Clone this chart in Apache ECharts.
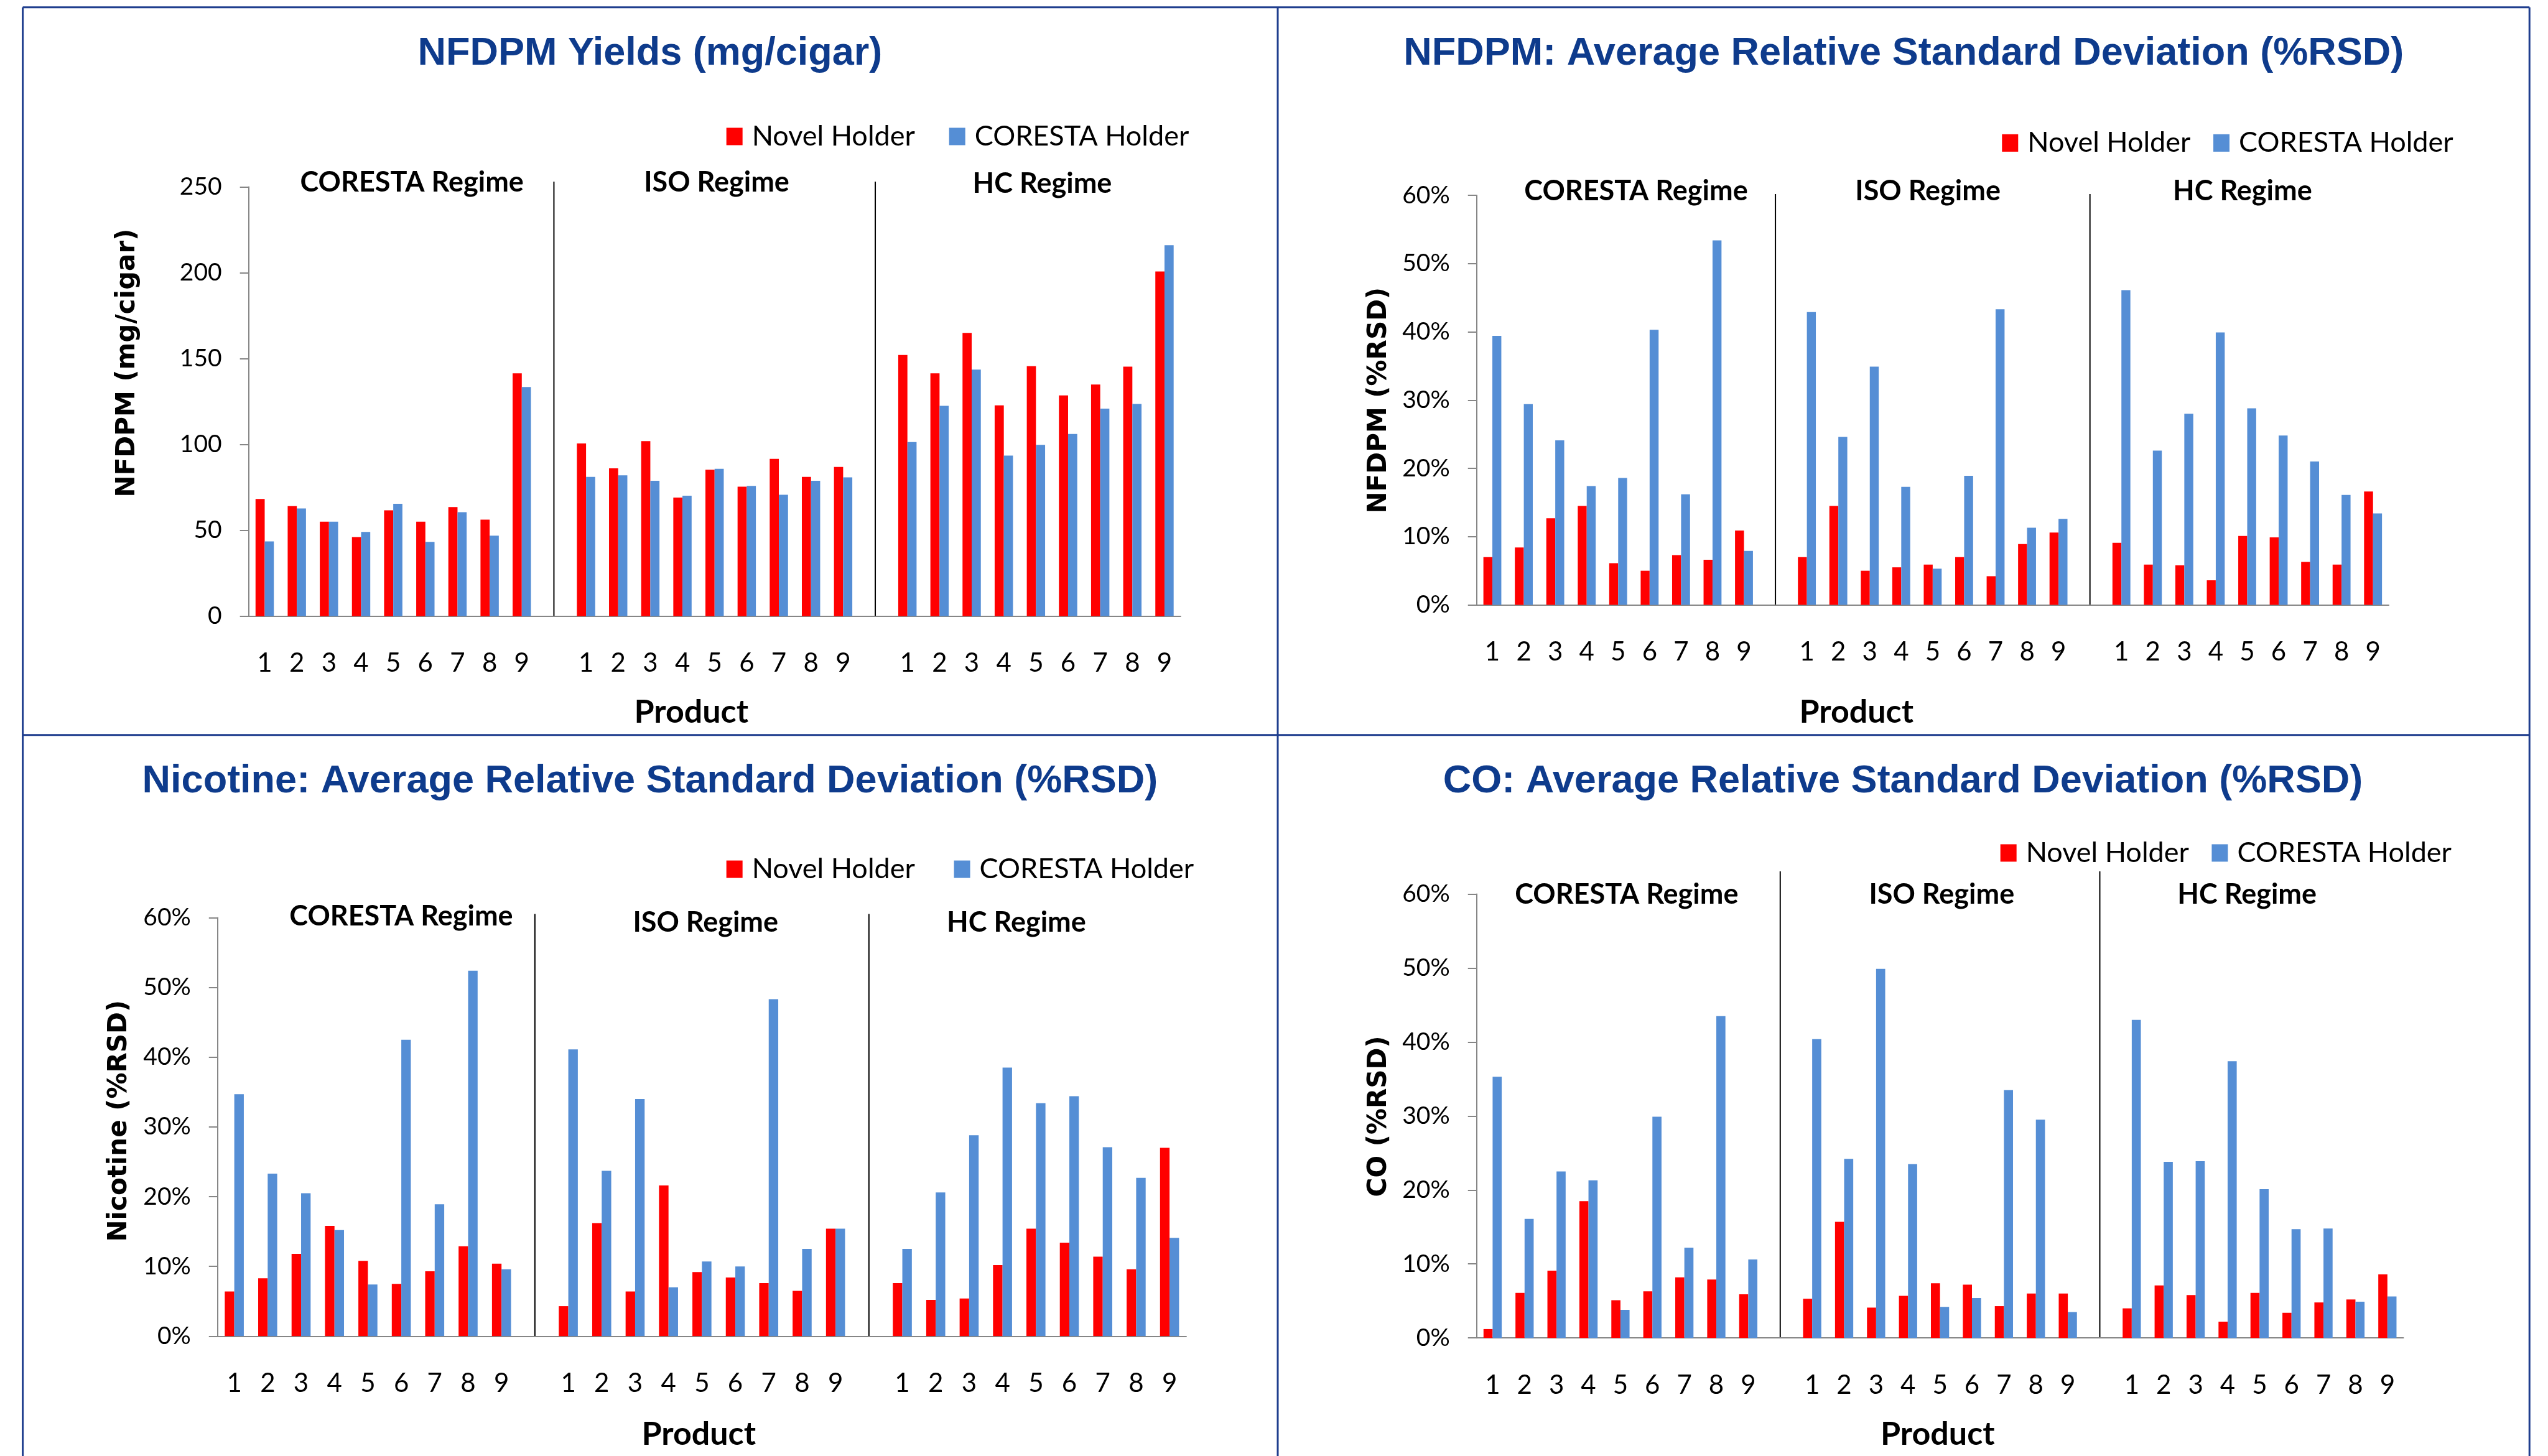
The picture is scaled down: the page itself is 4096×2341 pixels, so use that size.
<!DOCTYPE html>
<html>
  <head>
    <meta charset="UTF-8" />
    <title>NFDPM, Nicotine and CO - Novel vs CORESTA Holder</title>
    <script src="https://cdn.jsdelivr.net/npm/echarts@6.0.0/dist/echarts.min.js"></script>
    <style>
      html, body { margin: 0; padding: 0; background: #fff; }
    </style>
  </head>
  <body>
    <div id="chart" style="width: 4096px; height: 2341px"></div>
    <script>
      var products = ["1", "2", "3", "4", "5", "6", "7", "8", "9"];
      var regimes = ["CORESTA Regime", "ISO Regime", "HC Regime"];
      var seriesNames = ["Novel Holder", "CORESTA Holder"];

      // 27 values each: CORESTA regime 1-9, ISO regime 1-9, HC regime 1-9
      var nfdpmNovel = [68.3, 64.1, 55.1, 46.1, 61.7, 55.1, 63.6, 56.2, 141.4,
        100.6, 86.1, 102.0, 69.1, 85.3, 75.4, 91.6, 81.1, 86.9,
        152.1, 141.4, 165.0, 122.8, 145.6, 128.6, 134.9, 145.3, 200.7];
      var nfdpmCoresta = [43.6, 62.8, 55.1, 49.1, 65.5, 43.3, 60.6, 46.9, 133.5,
        81.1, 82.0, 78.9, 70.2, 85.8, 75.9, 70.7, 78.9, 80.9,
        101.4, 122.5, 143.6, 93.5, 99.8, 106.1, 120.9, 123.6, 216.0];

      var nfdpmRsdNovel = [7.0, 8.4, 12.7, 14.5, 6.1, 5.0, 7.3, 6.6, 10.9,
        7.0, 14.5, 5.0, 5.5, 5.9, 7.0, 4.2, 8.9, 10.6,
        9.1, 5.9, 5.8, 3.6, 10.1, 9.9, 6.3, 5.9, 16.6];
      var nfdpmRsdCoresta = [39.4, 29.4, 24.1, 17.4, 18.6, 40.3, 16.2, 53.4, 7.9,
        42.9, 24.6, 34.9, 17.3, 5.3, 18.9, 43.3, 11.3, 12.6,
        46.1, 22.6, 28.0, 39.9, 28.8, 24.8, 21.0, 16.1, 13.4];

      var nicRsdNovel = [6.4, 8.3, 11.8, 15.8, 10.8, 7.5, 9.3, 12.9, 10.4,
        4.3, 16.2, 6.4, 21.6, 9.2, 8.4, 7.6, 6.5, 15.4,
        7.6, 5.2, 5.4, 10.2, 15.4, 13.4, 11.4, 9.6, 27.0];
      var nicRsdCoresta = [34.7, 23.3, 20.5, 15.2, 7.4, 42.5, 18.9, 52.4, 9.6,
        41.1, 23.7, 34.0, 7.0, 10.7, 10.0, 48.3, 12.5, 15.4,
        12.5, 20.6, 28.8, 38.5, 33.4, 34.4, 27.1, 22.7, 14.1];

      var coRsdNovel = [1.2, 6.1, 9.1, 18.5, 5.1, 6.3, 8.2, 7.9, 5.9,
        5.3, 15.7, 4.1, 5.7, 7.4, 7.2, 4.3, 6.0, 6.0,
        4.0, 7.1, 5.8, 2.2, 6.1, 3.4, 4.8, 5.2, 8.6];
      var coRsdCoresta = [35.3, 16.1, 22.5, 21.3, 3.8, 29.9, 12.2, 43.5, 10.6,
        40.4, 24.2, 49.9, 23.5, 4.2, 5.4, 33.5, 29.5, 3.5,
        43.0, 23.8, 23.9, 37.4, 20.1, 14.7, 14.8, 4.9, 5.6];

      // layout was measured on the 1568px wide preview, S scales it to the window
      var S = 4096 / 1568;
      var NAVY = "#0E3B8C";
      var RED = "#FF0000";
      var BLUE = "#558ED5";
      var AXIS = "#868686";

      var panels = [
        {
          title: "NFDPM Yields (mg/cigar)", yName: "NFDPM (mg/cigar)",
          novel: nfdpmNovel, coresta: nfdpmCoresta, max: 250, step: 50, pct: false,
          grid: [153, 115, 573.5, 264.3], titleAt: [400, 33], legendAt: [447, 84], legendGap: 21,
          regimeAt: [[253.5, 112.4], [441, 112.4], [641.4, 113]],
          yNameAt: [78.5, 223.4], productAt: [425.4, 438.4], sepTop: 111.8,
        },
        {
          title: "NFDPM: Average Relative Standard Deviation (%RSD)", yName: "NFDPM (%RSD)",
          novel: nfdpmRsdNovel, coresta: nfdpmRsdCoresta, max: 60, step: 10, pct: true,
          grid: [908.7, 120.2, 561.3, 252.1], titleAt: [1171.5, 33], legendAt: [1232, 88], legendGap: 14,
          regimeAt: [[1006.8, 117.9], [1186.4, 117.9], [1380, 117.9]],
          yNameAt: [848.7, 246.4], productAt: [1142.4, 438.4], sepTop: 119.4,
        },
        {
          title: "Nicotine: Average Relative Standard Deviation (%RSD)", yName: "Nicotine (%RSD)",
          novel: nicRsdNovel, coresta: nicRsdCoresta, max: 60, step: 10, pct: true,
          grid: [133.9, 564.8, 596.1, 257.6], titleAt: [400, 481], legendAt: [447, 535], legendGap: 24,
          regimeAt: [[246.9, 564.2], [434.2, 568], [625.5, 568]],
          yNameAt: [73.7, 689.9], productAt: [430, 882.7], sepTop: 562.5,
        },
        {
          title: "CO: Average Relative Standard Deviation (%RSD)", yName: "CO (%RSD)",
          novel: coRsdNovel, coresta: coRsdCoresta, max: 60, step: 10, pct: true,
          grid: [908.7, 550.3, 570.3, 273.2], titleAt: [1171, 481], legendAt: [1231, 525], legendGap: 14,
          regimeAt: [[1001, 550.6], [1194.9, 550.6], [1382.8, 550.6]],
          yNameAt: [848.7, 687.1], productAt: [1192.4, 882.7], sepTop: 536.3,
        },
      ];

      // one empty slot between regimes
      var categories = [];
      var gapIndex = [];
      regimes.forEach(function (r, i) {
        if (i > 0) {
          gapIndex.push(categories.length);
          categories.push("");
        }
        products.forEach(function (p) {
          categories.push(p);
        });
      });

      function withGaps(values) {
        var out = [];
        for (var i = 0; i < values.length; i++) {
          if (i > 0 && i % products.length === 0) out.push(null);
          out.push(values[i]);
        }
        return out;
      }

      function label(x, y, str, font, color, rotation) {
        return {
          type: "text",
          x: x * S,
          y: y * S,
          rotation: rotation || 0,
          silent: true,
          style: {
            text: str,
            font: font,
            fill: color,
            textAlign: "center",
            textVerticalAlign: "middle",
            align: "center",
            verticalAlign: "middle",
          },
        };
      }

      function rule(x1, y1, x2, y2, color, width) {
        return {
          type: "line",
          silent: true,
          shape: { x1: x1, y1: y1, x2: x2, y2: y2 },
          style: { stroke: color, lineWidth: width },
        };
      }

      var option = {
        backgroundColor: "#fff",
        animation: false,
        grid: [],
        xAxis: [],
        yAxis: [],
        legend: [],
        series: [],
      };
      var texts = [];

      panels.forEach(function (p, i) {
        option.grid.push({
          left: p.grid[0] * S,
          top: p.grid[1] * S,
          width: p.grid[2] * S,
          height: p.grid[3] * S,
        });
        option.xAxis.push({
          gridIndex: i,
          type: "category",
          data: categories,
          axisLine: { lineStyle: { color: AXIS, width: 2 } },
          axisTick: { interval: 0, length: 18, lineStyle: { color: AXIS, width: 2 } },
          axisLabel: {
            interval: 0,
            margin: 55,
            fontFamily: "Lato",
            fontSize: 42,
            lineHeight: 42,
            color: "#000",
          },
        });
        option.yAxis.push({
          gridIndex: i,
          type: "value",
          min: 0,
          max: p.max,
          interval: p.step,
          splitLine: { show: false },
          axisLine: { show: true, lineStyle: { color: AXIS, width: 2 } },
          axisTick: { show: true, length: 14, lineStyle: { color: AXIS, width: 2 } },
          axisLabel: {
            margin: 43,
            fontFamily: "Lato",
            fontSize: 39,
            color: "#000",
            formatter: p.pct ? "{value}%" : "{value}",
          },
        });
        option.legend.push({
          data: seriesNames,
          left: p.legendAt[0] * S,
          top: p.legendAt[1] * S - 24,
          padding: 0,
          icon: "rect",
          itemWidth: 26,
          itemHeight: 28,
          itemGap: p.legendGap * S,
          selectedMode: false,
          textStyle: {
            fontFamily: "Lato",
            fontSize: 45,
            lineHeight: 48,
            color: "#000",
            padding: [0, 0, 0, 10],
          },
        });
        [p.novel, p.coresta].forEach(function (vals, k) {
          option.series.push({
            name: seriesNames[k],
            type: "bar",
            xAxisIndex: i,
            yAxisIndex: i,
            data: withGaps(vals),
            barGap: "0%",
            barCategoryGap: "43%",
            itemStyle: { color: k === 0 ? RED : BLUE },
          });
        });

        texts.push(label(p.titleAt[0], p.titleAt[1], p.title, 'bold 63px "Liberation Sans"', NAVY));
        p.regimeAt.forEach(function (pos, r) {
          texts.push(label(pos[0], pos[1], regimes[r], 'bold 45px "Lato"', "#000"));
        });
        texts.push(label(p.yNameAt[0], p.yNameAt[1], p.yName, 'bold 42px "DejaVu Sans"', "#000", Math.PI / 2));
        texts.push(label(p.productAt[0], p.productAt[1], "Product", 'bold 52px "Lato"', "#000"));
      });

      // panel frame
      var frameColor = "#1F3E8E";
      texts.push(rule(14 * S, 4.5 * S, 1556.6 * S, 4.5 * S, frameColor, 3));
      texts.push(rule(14 * S, 4.5 * S, 14 * S, 2341, frameColor, 3));
      texts.push(rule(1556.6 * S, 4.5 * S, 1556.6 * S, 2341, frameColor, 3));
      texts.push(rule(786.3 * S, 4.5 * S, 786.3 * S, 2341, frameColor, 3));
      texts.push(rule(14 * S, 452.4 * S, 1556.6 * S, 452.4 * S, frameColor, 3));

      var chart = echarts.init(document.getElementById("chart"));
      chart.setOption(option);

      // regime separators sit in the empty slots, from the axis up to the regime labels
      panels.forEach(function (p, i) {
        gapIndex.forEach(function (g) {
          var base = chart.convertToPixel({ gridIndex: i }, [g, 0]);
          texts.push(rule(base[0], base[1], base[0], p.sepTop * S, "#000", 2));
        });
      });
      chart.setOption({ graphic: { elements: texts } });
    </script>
  </body>
</html>
